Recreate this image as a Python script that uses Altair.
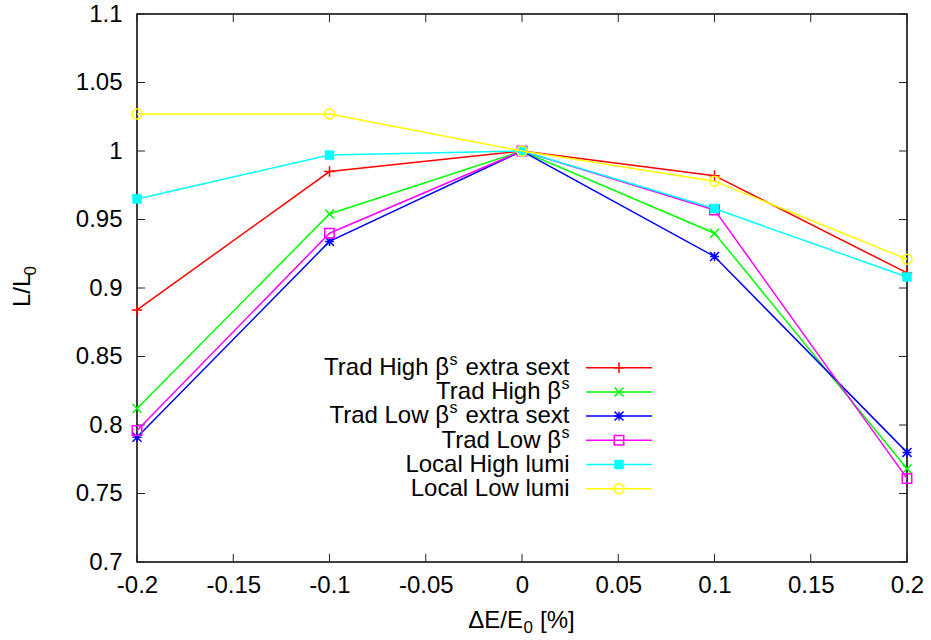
import altair as alt
import pandas as pd

# Relative energy offset ΔE/E0 [%]
de = [-0.2, -0.1, 0.0, 0.1, 0.2]

# Luminosity ratio L/L0 for each optics
trad_high_extra = [0.884, 0.985, 1.0, 0.982, 0.911]
trad_high = [0.812, 0.954, 1.0, 0.940, 0.768]
trad_low_extra = [0.791, 0.934, 1.0, 0.923, 0.780]
trad_low = [0.796, 0.940, 1.0, 0.957, 0.761]
local_high = [0.965, 0.997, 1.0, 0.958, 0.908]
local_low = [1.027, 1.027, 1.0, 0.978, 0.921]

# Legend labels split as (text before superscript, superscript, text after)
label_parts = [
    ("Trad High β", "s", " extra sext"),
    ("Trad High β", "s", ""),
    ("Trad Low β", "s", " extra sext"),
    ("Trad Low β", "s", ""),
    ("Local High lumi", "", ""),
    ("Local Low lumi", "", ""),
]
series = [trad_high_extra, trad_high, trad_low_extra, trad_low, local_high, local_low]
colors = ["#ff0000", "#00ff00", "#0000ff", "#ff00ff", "#00ffff", "#ffff00"]

PLUS = "M-1,0L1,0M0,-1L0,1"
CROSS = "M-1,-1L1,1M-1,1L1,-1"
STAR = PLUS + CROSS
# (shape, filled, size)
markers = [
    (PLUS, False, 110),
    (CROSS, False, 80),
    (STAR, False, 80),
    ("square", False, 90),
    ("square", True, 90),
    ("circle", False, 100),
]

x_ticks = [-0.2, -0.15, -0.1, -0.05, 0.0, 0.05, 0.1, 0.15, 0.2]
y_ticks = [0.7, 0.75, 0.8, 0.85, 0.9, 0.95, 1.0, 1.05, 1.1]

W, H = 770, 548
FONT = "Liberation Sans"
FS = 24
SUB_FS = 17
SUP_FS = 16
label_expr = "replace(format(datum.value, '.2~f'), '\u2212', '-')"

common_axis = dict(
    labelExpr=label_expr, grid=False, domain=False, ticks=False,
    labelFontSize=FS, labelFont=FONT, labelColor="black",
    labelFlush=False, labelOverlap=False, title=None,
)
X = alt.X(
    "x:Q",
    scale=alt.Scale(domain=[-0.2, 0.2], nice=False, zero=False),
    axis=alt.Axis(values=x_ticks, labelPadding=11, **common_axis),
)
Y = alt.Y(
    "y:Q",
    scale=alt.Scale(domain=[0.7, 1.1], nice=False, zero=False),
    axis=alt.Axis(values=y_ticks, labelPadding=15, **common_axis),
)

layers = []

# Inward tick marks on all four sides of the frame
yt = pd.DataFrame({"y": y_ticks})
xt = pd.DataFrame({"x": x_ticks})
TL = 8
tick_style = dict(color="#222222", strokeWidth=1)
layers.append(alt.Chart(yt).mark_rule(**tick_style).encode(y=Y, x=alt.value(0), x2=alt.value(TL)))
layers.append(alt.Chart(yt).mark_rule(**tick_style).encode(y=Y, x=alt.value(W - TL), x2=alt.value(W)))
layers.append(alt.Chart(xt).mark_rule(**tick_style).encode(x=X, y=alt.value(H), y2=alt.value(H - TL)))
layers.append(alt.Chart(xt).mark_rule(**tick_style).encode(x=X, y=alt.value(0), y2=alt.value(TL)))


def text_layer(txt, x, y, size=FS, align="left", angle=0):
    return alt.Chart(pd.DataFrame({"t": [txt]})).mark_text(
        align=align, baseline="alphabetic", font=FONT, fontSize=size,
        color="black", angle=angle,
    ).encode(x=alt.value(x), y=alt.value(y), text="t:N")


# Axis titles with subscripts
layers.append(text_layer("ΔE/E", 386, 614, align="right"))
layers.append(text_layer("0", 386.5, 618.5, size=SUB_FS))
layers.append(text_layer("[%]", 403, 614))
layers.append(text_layer("L/L", -107, 293, angle=270))
layers.append(text_layer("0", -101.5, 261.5, size=SUB_FS, angle=270))

# Legend placement (inside the plot area)
LEG_RIGHT = 432.5
LEG_X1, LEG_X2, LEG_MX = 449, 515, 482
LEG_Y0, LEG_DY = 353.7, 24.2
SUP_W = 8
SUP_RISE = 10
SUFFIX_W = 112

for i, (parts, vals, col, (shape, filled, size)) in enumerate(zip(label_parts, series, colors, markers)):
    df = pd.DataFrame({"x": de, "y": vals})
    base = alt.Chart(df)
    layers.append(base.mark_line(color=col, strokeWidth=1.5).encode(x=X, y=Y))
    pt_style = dict(shape=shape, size=size, filled=filled, color=col, strokeWidth=1.5, opacity=1)
    layers.append(base.mark_point(**pt_style).encode(x=X, y=Y))

    ly = LEG_Y0 + i * LEG_DY
    ld = alt.Chart(pd.DataFrame({"k": [i]}))
    layers.append(ld.mark_rule(color=col, strokeWidth=1.5).encode(
        x=alt.value(LEG_X1), x2=alt.value(LEG_X2), y=alt.value(ly)))
    layers.append(ld.mark_point(**pt_style).encode(x=alt.value(LEG_MX), y=alt.value(ly)))

    head, sup, tail = parts
    base_y = ly + 7.3
    right = LEG_RIGHT
    if tail:
        layers.append(text_layer(tail, right, base_y, align="right"))
        right -= SUFFIX_W
    if sup:
        layers.append(text_layer(sup, right - SUP_W, base_y - SUP_RISE, size=SUP_FS))
        right -= SUP_W + 0.5
    layers.append(text_layer(head, right, base_y, align="right"))

chart = alt.layer(*layers).properties(
    width=W,
    height=H,
    autosize=alt.AutoSizeParams(type="none"),
    padding={"left": 137, "top": 14, "right": 24, "bottom": 78},
    background="white",
).configure_view(stroke="black", strokeWidth=1.5)

chart.save("out.html", embed_options={"renderer": "svg", "actions": False})
